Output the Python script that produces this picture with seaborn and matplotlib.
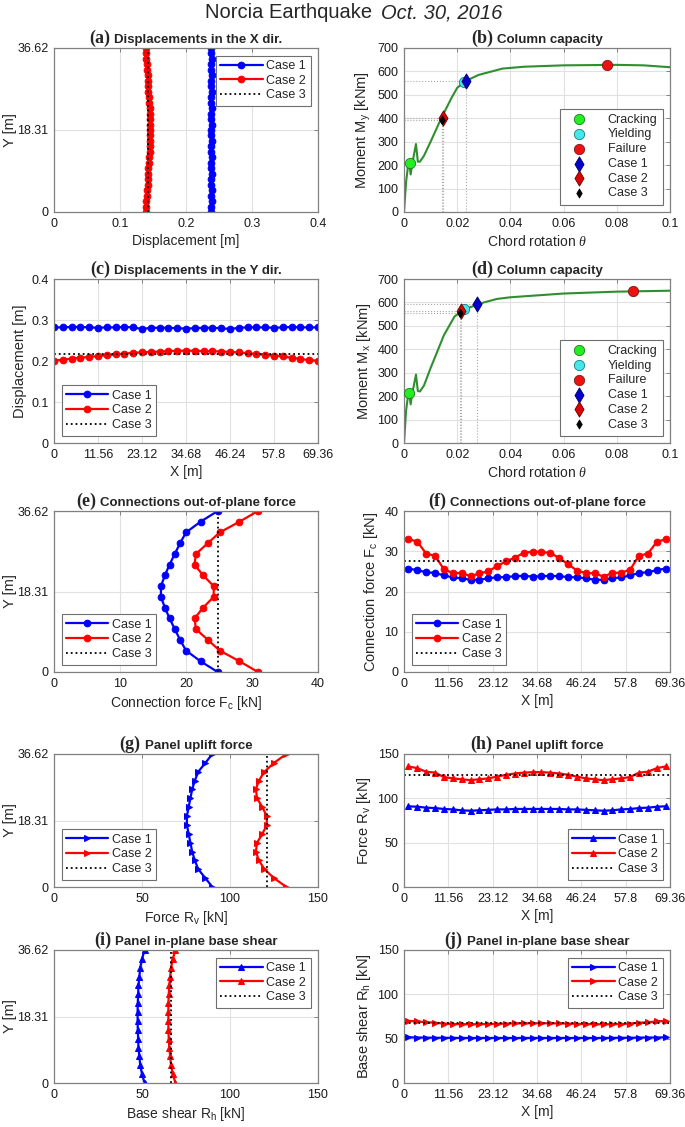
import numpy as np
import pandas as pd
import matplotlib
matplotlib.use("Agg")
import matplotlib.pyplot as plt
import seaborn as sns
from matplotlib.offsetbox import TextArea, HPacker, AnchoredOffsetbox

## Data

# node heights along the panel (left column profiles)
y_fine = [0, 1.22, 2.44, 3.66, 4.88, 6.10, 7.32, 8.54, 9.76, 10.99, 12.21, 13.43, 14.65,
          15.87, 17.09, 18.31, 19.53, 20.75, 21.97, 23.19, 24.41, 25.63, 26.85, 28.07,
          29.29, 30.51, 31.74, 32.96, 34.18, 35.40, 36.62]
y_nodes = [0, 2.44, 4.88, 7.32, 9.76, 12.21, 14.65, 17.09, 19.53, 21.97, 24.41, 26.85,
           29.29, 31.74, 34.18, 36.62]
y_ends = [0, 36.62]

# positions along the building (right column profiles)
x_fine = [0, 2.31, 4.62, 6.94, 9.25, 11.56, 13.87, 16.18, 18.50, 20.81, 23.12, 25.43,
          27.74, 30.06, 32.37, 34.68, 36.99, 39.30, 41.62, 43.93, 46.24, 48.55, 50.86,
          53.18, 55.49, 57.80, 60.11, 62.42, 64.74, 67.05, 69.36]
x_mid = [1.16, 3.47, 5.78, 8.09, 10.40, 12.72, 15.03, 17.34, 19.65, 21.96, 24.28, 26.59,
         28.90, 31.21, 33.52, 35.84, 38.15, 40.46, 42.77, 45.08, 47.40, 49.71, 52.02,
         54.33, 56.64, 58.96, 61.27, 63.58, 65.89, 68.20]
x_ends = [0, 69.36]

# (a) displacements in X dir
a_case1 = [0.238, 0.238, 0.239, 0.238, 0.239, 0.238, 0.238, 0.239, 0.238, 0.238, 0.239,
           0.238, 0.238, 0.239, 0.238, 0.238, 0.239, 0.238, 0.238, 0.239, 0.238, 0.238,
           0.239, 0.238, 0.238, 0.239, 0.238, 0.238, 0.239, 0.238, 0.238]
a_case2 = [0.139, 0.140, 0.140, 0.141, 0.141, 0.142, 0.142, 0.143, 0.143, 0.144, 0.144,
           0.145, 0.145, 0.146, 0.146, 0.146, 0.146, 0.146, 0.145, 0.145, 0.144, 0.144,
           0.143, 0.143, 0.142, 0.142, 0.141, 0.141, 0.140, 0.140, 0.139]
a_case3 = [0.142, 0.142]

# (c) displacements in Y dir
c_case1 = [0.282, 0.282, 0.283, 0.283, 0.282, 0.281, 0.282, 0.282, 0.283, 0.282, 0.278,
           0.281, 0.281, 0.281, 0.280, 0.279, 0.280, 0.281, 0.281, 0.280, 0.278, 0.281,
           0.282, 0.282, 0.282, 0.281, 0.282, 0.283, 0.282, 0.282, 0.282]
c_case2 = [0.201, 0.203, 0.206, 0.208, 0.210, 0.212, 0.214, 0.216, 0.218, 0.220, 0.221,
           0.222, 0.223, 0.224, 0.225, 0.225, 0.225, 0.224, 0.224, 0.223, 0.222, 0.221,
           0.219, 0.217, 0.215, 0.213, 0.211, 0.208, 0.205, 0.202, 0.201]
c_case3 = [0.216, 0.216]

# (b) column capacity, My
b_theta = [0, 0.0008, 0.0015, 0.002, 0.0025, 0.003, 0.0045, 0.0052, 0.006, 0.0075, 0.01,
           0.014, 0.018, 0.02, 0.023, 0.028, 0.033, 0.037, 0.045, 0.06, 0.08, 0.09, 0.1]
b_moment = [0, 130, 195, 205, 160, 200, 290, 215, 215, 240, 300,
            400, 490, 530, 558, 585, 600, 612, 620, 626, 628, 626, 618]
b_crack = [0.0022, 208]
b_yield = [0.0225, 555]
b_fail = [0.0765, 628]
b_case1 = [0.0232, 560]
b_case2 = [0.0145, 400]
b_case3 = [0.0141, 394]

# (d) column capacity, Mx
d_theta = [0, 0.0008, 0.0015, 0.002, 0.0025, 0.003, 0.0045, 0.0052, 0.006, 0.0075, 0.01,
           0.015, 0.019, 0.022, 0.025, 0.03, 0.035, 0.04, 0.06, 0.08, 0.1]
d_moment = [0, 140, 200, 210, 165, 205, 292, 222, 220, 245, 320,
            460, 540, 565, 580, 600, 615, 622, 638, 646, 650]
d_crack = [0.0018, 213]
d_yield = [0.0225, 573]
d_fail = [0.086, 648]
d_case1 = [0.0275, 592]
d_case2 = [0.0215, 565]
d_case3 = [0.021, 556]

# (e) connection out-of-plane force vs height
e_case1 = [24.8, 22.2, 20.0, 19.1, 18.3, 17.5, 16.8, 16.2, 16.2, 16.8, 17.5, 18.3, 19.1,
           20.0, 22.2, 24.8]
e_case2 = [30.9, 28.1, 25.1, 23.3, 21.5, 21.3, 22.6, 24.2, 24.2, 22.6, 21.3, 21.5, 23.3,
           25.1, 28.1, 30.9]
e_case3 = [24.8, 24.8]

# (f) connection out-of-plane force along X
f_case1 = [25.7, 25.3, 24.8, 24.6, 24.0, 23.5, 23.3, 22.9, 22.9, 23.3, 23.5, 23.6, 23.8,
           23.9, 23.7, 23.8, 23.9, 23.8, 23.6, 23.5, 23.3, 22.9, 22.9, 23.3, 23.5, 24.0,
           24.6, 24.8, 25.3, 25.7]
f_case2 = [33.0, 32.4, 29.4, 28.9, 25.5, 24.6, 24.6, 23.8, 24.5, 25.0, 26.3, 27.5, 28.4,
           29.6, 29.9, 29.8, 29.6, 28.3, 26.8, 25.2, 24.6, 24.5, 23.7, 24.6, 24.7, 25.4,
           28.9, 29.4, 32.3, 33.0]
f_case3 = [27.5, 27.5]

# (g) panel uplift force vs height
g_case1 = [90.0, 86.0, 82.0, 80.0, 78.5, 77.5, 76.5, 75.5, 75.5, 76.5, 77.5, 78.5, 80.0,
           82.0, 86.0, 90.0]
g_case2 = [132.0, 125.0, 119.6, 116.4, 114.7, 115.4, 118.4, 120.9, 120.9, 118.4, 115.4,
           114.7, 116.4, 119.6, 125.0, 132.0]
g_case3 = [121.0, 121.0]

# (h) panel uplift force along X
h_case1 = [91.0, 90.5, 89.5, 89.0, 88.0, 87.5, 86.5, 86.0, 86.5, 87.0, 87.5, 87.5, 88.0,
           88.0, 88.0, 88.0, 88.0, 88.0, 87.5, 87.5, 87.0, 86.5, 86.0, 86.5, 87.5, 88.0,
           89.0, 89.5, 90.5, 91.0]
h_case2 = [136.0, 134.0, 130.0, 129.0, 124.0, 122.5, 121.5, 120.5, 121.5, 122.5, 124.5,
           126.5, 128.0, 129.0, 129.5, 129.5, 129.0, 128.0, 126.5, 124.5, 122.5, 121.5,
           120.5, 121.5, 122.5, 124.0, 129.0, 130.0, 134.0, 136.0]
h_case3 = [126.5, 126.5]

# (i) panel in-plane base shear vs height
i_case1 = [51.5, 50.0, 49.0, 48.5, 48.0, 47.8, 47.6, 47.5, 47.5, 47.6, 47.8, 48.0, 48.5,
           49.0, 50.0, 51.5]
i_case2 = [69.0, 67.5, 66.5, 66.0, 65.5, 65.2, 65.0, 65.0, 65.0, 65.0, 65.2, 65.5, 66.0,
           66.5, 67.5, 69.0]
i_case3 = [66.2, 66.2]

# (j) panel in-plane base shear along X
j_case1 = [51.5, 51.3, 51.2, 51.0, 51.0, 50.9, 50.8, 50.8, 50.8, 50.8, 50.8, 50.8, 50.8,
           50.8, 50.8, 50.8, 50.8, 50.8, 50.8, 50.8, 50.8, 50.8, 50.8, 50.9, 51.0, 51.0,
           51.2, 51.3, 51.3, 51.5]
j_case2 = [70.0, 69.5, 68.5, 68.0, 67.0, 66.5, 66.3, 66.2, 66.3, 66.5, 66.7, 67.0, 67.2,
           67.3, 67.4, 67.4, 67.3, 67.2, 67.0, 66.7, 66.5, 66.3, 66.2, 66.3, 66.5, 67.0,
           68.0, 68.5, 69.5, 70.0]
j_case3 = [67.8, 67.8]

ticks_x_build = [0, 11.56, 23.12, 34.68, 46.24, 57.8, 69.36]
ticks_x_labels = ['0', '11.56', '23.12', '34.68', '46.24', '57.8', '69.36']
ticks_y_height = [0, 18.31, 36.62]
ticks_y_labels = ['0', '18.31', '36.62']
theta_ticks = [0, 0.02, 0.04, 0.06, 0.08, 0.1]
theta_labels = ['0', '0.02', '0.04', '0.06', '0.08', '0.1']

## Style
sns.set_style("white")
plt.rcParams['font.family'] = ['Liberation Sans', 'DejaVu Sans']
plt.rcParams['mathtext.fontset'] = 'custom'
plt.rcParams['mathtext.rm'] = 'Liberation Sans'
plt.rcParams['mathtext.it'] = 'Liberation Serif:italic'
plt.rcParams['mathtext.bf'] = 'Liberation Sans:bold'

BLUE = '#0000ff'
RED = '#ff0000'
SPINE = '#808080'
GRIDC = '#e1e1e1'

fig = plt.figure(figsize=(6.85, 11.27), dpi=100)

L_X, L_W = 54 / 685, 264 / 685
R_X, R_W = 404 / 685, 266 / 685
rows = [(212, 164), (443, 164), (672, 161), (887, 133), (1083, 133)]


def make_ax(col, row):
    bot, h = rows[row]
    x0, w = (L_X, L_W) if col == 0 else (R_X, R_W)
    return fig.add_axes([x0, 1 - bot / 1127, w, h / 1127])


def style_ax(ax, xlim, ylim, xticks, yticks, xlabels=None, ylabels=None):
    ax.set_xlim(xlim)
    ax.set_ylim(ylim)
    ax.set_xticks(xticks)
    ax.set_yticks(yticks)
    if xlabels is not None:
        ax.set_xticklabels(xlabels)
    if ylabels is not None:
        ax.set_yticklabels(ylabels)
    ax.grid(True, color=GRIDC, lw=0.8)
    ax.set_axisbelow(True)
    for s in ax.spines.values():
        s.set_visible(True)
        s.set_color(SPINE)
        s.set_linewidth(0.9)
    ax.tick_params(direction='in', length=3, width=0.7, color=SPINE, labelsize=9,
                   top=True, right=True, pad=4, labelcolor='#1a1a1a')


def panel_title(ax, letter, text):
    box = HPacker(children=[TextArea(letter, textprops=dict(family='Liberation Serif', weight='bold', size=13)),
                            TextArea(text, textprops=dict(family='Liberation Sans', weight='bold', size=9.5))],
                  align='baseline', pad=0, sep=3)
    ab = AnchoredOffsetbox(loc='lower center', child=box, pad=0, borderpad=0.1, frameon=False,
                           bbox_to_anchor=(0.5, 1.0), bbox_transform=ax.transAxes)
    ax.add_artist(ab)


def add_legend(ax, loc):
    leg = ax.legend(loc=loc, fontsize=9, handlelength=3.4, labelspacing=0.22, borderpad=0.35,
                    handletextpad=0.3, fancybox=False, framealpha=1, edgecolor='#6f6f6f',
                    borderaxespad=0.6)
    leg.get_frame().set_linewidth(0.8)


def profile(ax, xs, ys, color, marker, label, ms=4.8):
    sns.lineplot(x=xs, y=ys, ax=ax, sort=False, estimator=None, color=color, lw=1.6,
                 marker=marker, markersize=ms, markeredgecolor=color, markerfacecolor=color,
                 label=label)


def ref_line(ax, xs, ys):
    sns.lineplot(x=xs, y=ys, ax=ax, sort=False, estimator=None, color='black', lw=1.3,
                 linestyle=':', label='Case 3')


def capacity(ax, theta, moment, crack, yld, fail, c1, c2, c3):
    for pt in (c1, c2, c3):
        ax.hlines(pt[1], 0, pt[0], color='#a8a8a8', lw=0.8, linestyles=':')
        ax.vlines(pt[0], 0, pt[1], color='#a8a8a8', lw=0.8, linestyles=':')
    sns.lineplot(x=theta, y=moment, ax=ax, sort=False, estimator=None, color='#2f8f2f', lw=1.5)
    sns.scatterplot(x=[crack[0]], y=[crack[1]], ax=ax, marker='o', s=55, color='#22ee22',
                    edgecolor='#1a7a1a', linewidth=0.6, label='Cracking', zorder=5)
    sns.scatterplot(x=[yld[0]], y=[yld[1]], ax=ax, marker='o', s=55, color='#44e8e8',
                    edgecolor='#1a7a7a', linewidth=0.6, label='Yielding', zorder=5)
    sns.scatterplot(x=[fail[0]], y=[fail[1]], ax=ax, marker='o', s=55, color='#ee1111',
                    edgecolor='#7a1a1a', linewidth=0.6, label='Failure', zorder=5)
    sns.scatterplot(x=[c1[0]], y=[c1[1]], ax=ax, marker='d', s=60, color='#0000cc',
                    edgecolor='#000066', linewidth=0.6, label='Case 1', zorder=6)
    sns.scatterplot(x=[c2[0]], y=[c2[1]], ax=ax, marker='d', s=60, color='#dd0000',
                    edgecolor='#660000', linewidth=0.6, label='Case 2', zorder=6)
    sns.scatterplot(x=[c3[0]], y=[c3[1]], ax=ax, marker='d', s=22, color='black',
                    edgecolor='black', linewidth=0.5, label='Case 3', zorder=7)
    style_ax(ax, (0, 0.1), (0, 700), theta_ticks, list(range(0, 701, 100)), theta_labels)
    leg = ax.legend(loc='lower right', fontsize=9, handlelength=2.2, labelspacing=0.22,
                    borderpad=0.4, handletextpad=1.2, fancybox=False, framealpha=1,
                    edgecolor='#6f6f6f', borderaxespad=0.6)
    leg.get_frame().set_linewidth(0.8)
    ax.set_xlabel(r'Chord rotation $\theta$', fontsize=10, labelpad=3)


lab_kw = dict(fontsize=10, labelpad=3)
ylab_kw = dict(fontsize=10.5, labelpad=3)
yh_kw = dict(fontsize=10.5, labelpad=0)

# (a)
ax = make_ax(0, 0)
profile(ax, a_case1, y_fine, BLUE, 'o', 'Case 1')
profile(ax, a_case2, y_fine, RED, 'o', 'Case 2')
ref_line(ax, a_case3, y_ends)
style_ax(ax, (0, 0.4), (0, 36.62), [0, 0.1, 0.2, 0.3, 0.4], ticks_y_height,
         ['0', '0.1', '0.2', '0.3', '0.4'], ticks_y_labels)
add_legend(ax, 'upper right')
ax.set_xlabel('Displacement [m]', **lab_kw)
ax.set_ylabel('Y [m]', **yh_kw)
panel_title(ax, '(a)', 'Displacements in the X dir.')

# (b)
ax = make_ax(1, 0)
capacity(ax, b_theta, b_moment, b_crack, b_yield, b_fail, b_case1, b_case2, b_case3)
ax.set_ylabel(r'Moment M$_\mathrm{y}$ [kNm]', **ylab_kw)
panel_title(ax, '(b)', 'Column capacity')

# (c)
ax = make_ax(0, 1)
profile(ax, x_fine, c_case1, BLUE, 'o', 'Case 1')
profile(ax, x_fine, c_case2, RED, 'o', 'Case 2')
ref_line(ax, x_ends, c_case3)
style_ax(ax, (0, 69.36), (0, 0.4), ticks_x_build, [0, 0.1, 0.2, 0.3, 0.4],
         ticks_x_labels, ['0', '0.1', '0.2', '0.3', '0.4'])
add_legend(ax, 'lower left')
ax.set_xlabel('X [m]', **lab_kw)
ax.set_ylabel('Displacement [m]', **ylab_kw)
panel_title(ax, '(c)', 'Displacements in the Y dir.')

# (d)
ax = make_ax(1, 1)
capacity(ax, d_theta, d_moment, d_crack, d_yield, d_fail, d_case1, d_case2, d_case3)
ax.set_ylabel(r'Moment M$_\mathrm{x}$ [kNm]', **ylab_kw)
panel_title(ax, '(d)', 'Column capacity')

# (e)
ax = make_ax(0, 2)
profile(ax, e_case1, y_nodes, BLUE, 'o', 'Case 1')
profile(ax, e_case2, y_nodes, RED, 'o', 'Case 2')
ref_line(ax, e_case3, y_ends)
style_ax(ax, (0, 40), (0, 36.62), [0, 10, 20, 30, 40], ticks_y_height, None, ticks_y_labels)
add_legend(ax, 'lower left')
ax.set_xlabel(r'Connection force F$_\mathrm{c}$ [kN]', **lab_kw)
ax.set_ylabel('Y [m]', **yh_kw)
panel_title(ax, '(e)', 'Connections out-of-plane force')

# (f)
ax = make_ax(1, 2)
profile(ax, x_mid, f_case1, BLUE, 'o', 'Case 1')
profile(ax, x_mid, f_case2, RED, 'o', 'Case 2')
ref_line(ax, x_ends, f_case3)
style_ax(ax, (0, 69.36), (0, 40), ticks_x_build, [0, 10, 20, 30, 40], ticks_x_labels)
add_legend(ax, 'lower left')
ax.set_xlabel('X [m]', **lab_kw)
ax.set_ylabel(r'Connection force F$_\mathrm{c}$ [kN]', **ylab_kw)
panel_title(ax, '(f)', 'Connections out-of-plane force')

# (g)
ax = make_ax(0, 3)
profile(ax, g_case1, y_nodes, BLUE, '>', 'Case 1', ms=5)
profile(ax, g_case2, y_nodes, RED, '>', 'Case 2', ms=5)
ref_line(ax, g_case3, y_ends)
style_ax(ax, (0, 150), (0, 36.62), [0, 50, 100, 150], ticks_y_height, None, ticks_y_labels)
add_legend(ax, 'lower left')
ax.set_xlabel(r'Force R$_\mathrm{v}$ [kN]', **lab_kw)
ax.set_ylabel('Y [m]', **yh_kw)
panel_title(ax, '(g)', 'Panel uplift force')

# (h)
ax = make_ax(1, 3)
profile(ax, x_mid, h_case1, BLUE, '^', 'Case 1', ms=5)
profile(ax, x_mid, h_case2, RED, '^', 'Case 2', ms=5)
ref_line(ax, x_ends, h_case3)
style_ax(ax, (0, 69.36), (0, 150), ticks_x_build, [0, 50, 100, 150], ticks_x_labels)
add_legend(ax, 'lower right')
ax.set_xlabel('X [m]', **lab_kw)
ax.set_ylabel(r'Force R$_\mathrm{v}$ [kN]', **ylab_kw)
panel_title(ax, '(h)', 'Panel uplift force')

# (i)
ax = make_ax(0, 4)
profile(ax, i_case1, y_nodes, BLUE, '^', 'Case 1', ms=5)
profile(ax, i_case2, y_nodes, RED, '^', 'Case 2', ms=5)
ref_line(ax, i_case3, y_ends)
style_ax(ax, (0, 150), (0, 36.62), [0, 50, 100, 150], ticks_y_height, None, ticks_y_labels)
add_legend(ax, 'upper right')
ax.set_xlabel(r'Base shear R$_\mathrm{h}$ [kN]', **lab_kw)
ax.set_ylabel('Y [m]', **yh_kw)
panel_title(ax, '(i)', 'Panel in-plane base shear')

# (j)
ax = make_ax(1, 4)
profile(ax, x_mid, j_case1, BLUE, '>', 'Case 1', ms=5)
profile(ax, x_mid, j_case2, RED, '>', 'Case 2', ms=5)
ref_line(ax, x_ends, j_case3)
style_ax(ax, (0, 69.36), (0, 150), ticks_x_build, [0, 50, 100, 150], ticks_x_labels)
add_legend(ax, 'upper right')
ax.set_xlabel('X [m]', **lab_kw)
ax.set_ylabel(r'Base shear R$_\mathrm{h}$ [kN]', **ylab_kw)
panel_title(ax, '(j)', 'Panel in-plane base shear')

# super title
fig.text(0.543, 0.9885, 'Norcia Earthquake', ha='right', va='center', fontsize=14.5)
fig.text(0.556, 0.9885, 'Oct. 30, 2016', ha='left', va='center', fontsize=14.5, style='italic')

fig.savefig('out.png', dpi=100)
